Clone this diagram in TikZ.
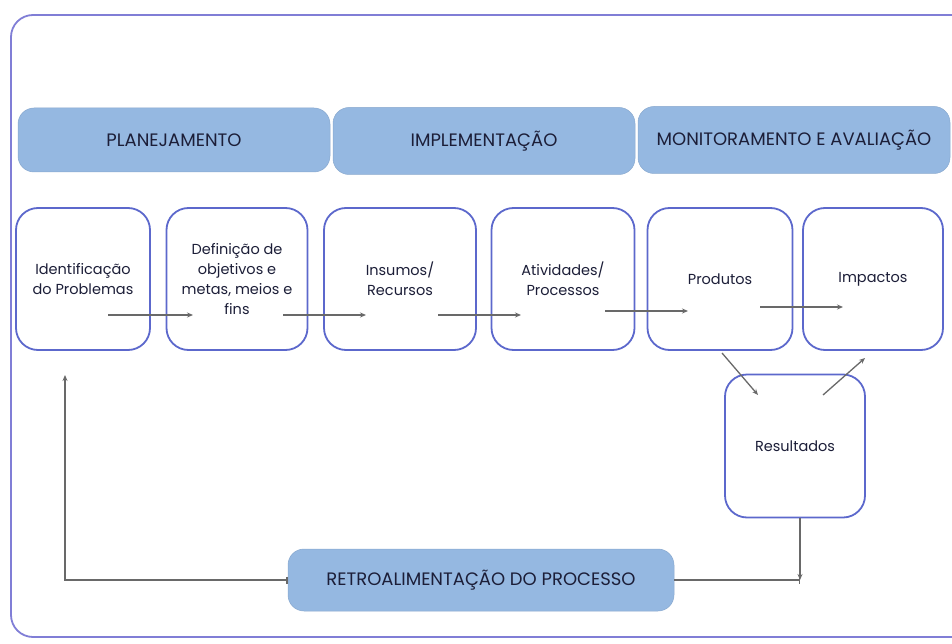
\documentclass[tikz,border=0pt]{standalone}
\usepackage{fontspec}
\setmainfont{Poppins}
\usetikzlibrary{calc}
\usetikzlibrary{positioning}
\usetikzlibrary{arrows.meta}

\definecolor{framecol}{RGB}{128,126,214}
\definecolor{boxcol}{RGB}{92,104,204}
\definecolor{phasecol}{RGB}{149,184,225}
\definecolor{arrowcol}{RGB}{105,105,105}
\definecolor{textcol}{RGB}{28,30,56}

\tikzset{
  phase/.style={rounded corners=16pt, fill=phasecol, draw=phasecol!92!black, line width=0.5pt,
    text=textcol, font=\fontsize{18}{21}\selectfont, minimum height=64pt, inner sep=0pt},
  stage/.style={rounded corners=22pt, draw=boxcol, line width=1.8pt, fill=white, text=textcol,
    align=center, font=\fontsize{14.5}{20}\selectfont, minimum height=142pt, inner sep=0pt,
    outer sep=0pt},
  flow/.style={draw=arrowcol, line width=1.3pt, -{Stealth[length=6pt,width=5pt]}},
  link/.style={draw=arrowcol, line width=1.3pt},
}

\begin{document}
\begin{tikzpicture}[x=1pt, y=-1pt]
        \useasboundingbox (0,0) rectangle (952,644);

        % Outer frame
        \draw[framecol, line width=1.8pt, rounded corners=22pt] (11,15) rectangle (975,637);

        % Phases
        \node[phase, minimum width=312pt] (plan) at (174,140) {PLANEJAMENTO};
        \node[phase, minimum width=302pt, minimum height=67pt] (impl) at (484,141) {IMPLEMENTAÇÃO};
        \node[phase, minimum width=312pt, minimum height=67pt] (moni) at (794,140) {MONITORAMENTO E AVALIAÇÃO};

        % Stages
        \node[stage, minimum width=134pt] (ident) at (83,279) {Identificação\\do Problemas};
        \node[stage, minimum width=141pt, right=16.5pt of ident] (defin) {Definição de\\objetivos e\\metas, meios e\\fins};
        \node[stage, minimum width=152pt, right=16.5pt of defin] (insum) {Insumos/\\Recursos};
        \node[stage, minimum width=143pt, right=15.5pt of insum] (ativ) {Atividades/\\Processos};
        \node[stage, minimum width=145pt, right=13pt of ativ] (prod) {Produtos};
        \node[stage, minimum width=140pt, right=10.5pt of prod] (impac) {Impactos};
        \node[stage, minimum width=140pt, minimum height=143pt] (result) at (795,446) {Resultados};

        % Feedback
        \node[phase, minimum width=386pt, minimum height=62pt] (retro) at (481,580) {RETROALIMENTAÇÃO DO PROCESSO};

        % Flow arrows
        \draw[flow] ($(ident.center)+(25,36)$) -- ($(defin.center)+(-44,36)$);
        \draw[flow] ($(defin.center)+(46,36)$) -- ($(insum.center)+(-34,36)$);
        \draw[flow] ($(insum.center)+(38,36)$) -- ($(ativ.center)+(-42,36)$);
        \draw[flow] ($(ativ.center)+(42,32)$) -- ($(prod.center)+(-32,32)$);
        \draw[flow] ($(prod.center)+(40,28)$) -- ($(impac.center)+(-30,28)$);
        \draw[flow] ($(prod.center)+(2,74)$) -- ($(result.center)+(-37,-51)$);
        \draw[flow] ($(result.center)+(28,-51)$) -- ($(impac.center)+(-8,79)$);

        % Feedback loop
        \coordinate (fbR) at ([xshift=5pt]result.south |- retro.east);
        \coordinate (fbT) at ([xshift=-18pt,yshift=-25pt]ident.south);
        \draw[flow] ([xshift=5pt]result.south) -- (fbR);
        \draw[link, -{Bar[width=7pt]}] (retro.east) -- (fbR);
        \draw[flow, {Bar[width=7pt]}-{Stealth[length=6pt,width=5pt]}] (retro.west) -| (fbT);
\end{tikzpicture}
\end{document}
